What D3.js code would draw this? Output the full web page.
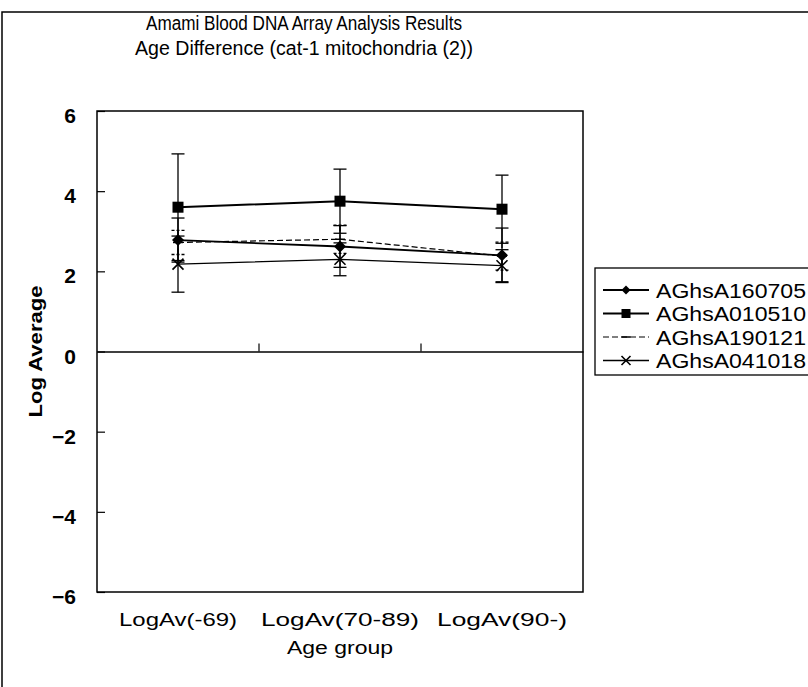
<!DOCTYPE html>
<html><head><meta charset="utf-8">
<script src="https://cdn.jsdelivr.net/npm/d3@7"></script>
<style>body{margin:0;background:#fff}svg{display:block}</style></head>
<body>
<svg id="c" width="808" height="687"></svg>
<script>
const categories = ["LogAv(-69)", "LogAv(70-89)", "LogAv(90-)"];
const seriesNames = ["AGhsA160705", "AGhsA010510", "AGhsA190121", "AGhsA041018"];
const values160705 = [2.78, 2.62, 2.40];
const errors160705 = [0.55, 0.52, 0.68];
const values010510 = [3.60, 3.75, 3.55];
const errors010510 = [1.33, 0.80, 0.85];
const values190121 = [2.72, 2.80, 2.38];
const errors190121 = [0.30, 0.35, 0.35];
const values041018 = [2.18, 2.30, 2.14];
const errors041018 = [0.70, 0.41, 0.40];
const yTicks = [-6, -4, -2, 0, 2, 4, 6];
const titleLines = ["Amami Blood DNA Array Analysis Results", "Age Difference (cat-1 mitochondria (2))"];
const xTitle = "Age group";
const yTitle = "Log Average";

const series = [
  {name: seriesNames[0], values: values160705, errors: errors160705, marker: "diamond", dash: null, width: 1.8},
  {name: seriesNames[1], values: values010510, errors: errors010510, marker: "square", dash: null, width: 2},
  {name: seriesNames[2], values: values190121, errors: errors190121, marker: "dash", dash: "6,3", width: 1.2},
  {name: seriesNames[3], values: values041018, errors: errors041018, marker: "x", dash: null, width: 1.3}
];

const svg = d3.select("#c");
const font = "'Liberation Sans', Arial, sans-serif";
const L = 97, R = 583, T = 111, B = 592;
const x = d3.scaleBand().domain(categories).range([L, R]);
const y = d3.scaleLinear().domain([-6, 6]).range([B, T]);
const cx = c => x(c) + x.bandwidth() / 2;

// outer frame
svg.append("path").attr("d", "M2,700 L2,12 L820,12").attr("fill", "none").attr("stroke", "#000").attr("stroke-width", 1.5);

// plot area border
svg.append("rect").attr("x", L).attr("y", T).attr("width", R - L).attr("height", B - T)
  .attr("fill", "none").attr("stroke", "#000").attr("stroke-width", 1.5);

// y axis
const ya = svg.append("g").attr("transform", `translate(${L},0)`)
  .call(d3.axisLeft(y).tickValues(yTicks).tickSize(-8).tickPadding(21).tickFormat(d => d < 0 ? "\u2212" + Math.abs(d) : d));
ya.select(".domain").remove();
ya.selectAll("line").attr("stroke-width", 1.2);
ya.selectAll("text").attr("font-family", font).attr("font-size", 21).attr("font-weight", "bold").attr("dy", "0.55em").attr("fill", "#000");

// zero line with category tick marks
const zx = svg.append("g").attr("transform", `translate(0,${y(0)})`)
  .call(d3.axisTop(x).tickValues([]).tickSizeOuter(0));
zx.select(".domain").attr("stroke-width", 1.6);
categories.slice(1).forEach(c => {
  svg.append("line").attr("x1", x(c)).attr("x2", x(c)).attr("y1", y(0)).attr("y2", y(0) - 8)
    .attr("stroke", "#000").attr("stroke-width", 1.2);
});

// category labels
const catW = [118, 158, 130];
svg.append("g").selectAll("text").data(categories).join("text")
  .attr("x", d => cx(d)).attr("y", 626).attr("text-anchor", "middle")
  .attr("textLength", (d, i) => catW[i]).attr("lengthAdjust", "spacingAndGlyphs")
  .attr("font-family", font).attr("font-size", 18).attr("fill", "#000").text(d => d);

// axis titles
svg.append("text").attr("x", cx(categories[1])).attr("y", 654).attr("text-anchor", "middle")
  .attr("textLength", 106).attr("lengthAdjust", "spacingAndGlyphs")
  .attr("font-family", font).attr("font-size", 18).text(xTitle);
svg.append("text").attr("transform", `translate(42,${(T + B) / 2}) rotate(-90)`).attr("text-anchor", "middle")
  .attr("textLength", 132).attr("lengthAdjust", "spacingAndGlyphs")
  .attr("font-family", font).attr("font-size", 19).attr("font-weight", "bold").text(yTitle);

// title
const titleW = [316, 338];
svg.append("g").selectAll("text").data(titleLines).join("text")
  .attr("x", 304).attr("y", (d, i) => 30 + i * 25).attr("text-anchor", "middle")
  .attr("textLength", (d, i) => titleW[i]).attr("lengthAdjust", "spacingAndGlyphs")
  .attr("font-family", font).attr("font-size", 20).text(d => d);

function marker(g, type, px, py, s) {
  if (type === "diamond") {
    g.append("path").attr("d", `M${px},${py - s}L${px + s},${py}L${px},${py + s}L${px - s},${py}Z`).attr("fill", "#000");
  } else if (type === "square") {
    g.append("rect").attr("x", px - s).attr("y", py - s).attr("width", 2 * s).attr("height", 2 * s).attr("fill", "#000");
  } else if (type === "dash") {
    g.append("line").attr("x1", px - s).attr("x2", px + s).attr("y1", py).attr("y2", py).attr("stroke", "#000").attr("stroke-width", 1.5);
  } else if (type === "x") {
    g.append("path").attr("d", `M${px - s},${py - s}L${px + s},${py + s}M${px - s},${py + s}L${px + s},${py - s}`)
      .attr("stroke", "#000").attr("stroke-width", 1.6).attr("fill", "none");
  }
}

const line = d3.line().x((d, i) => cx(categories[i])).y(d => y(d));
const sizes = {diamond: 6, square: 5.5, dash: 5, x: 5.5};

series.forEach(s => {
  const g = svg.append("g");
  s.values.forEach((v, i) => {
    const px = cx(categories[i]);
    g.append("line").attr("x1", px).attr("x2", px).attr("y1", y(v + s.errors[i])).attr("y2", y(v - s.errors[i]))
      .attr("stroke", "#000").attr("stroke-width", 1.3).attr("stroke-dasharray", s.dash);
    [v + s.errors[i], v - s.errors[i]].forEach(e => {
      g.append("line").attr("x1", px - 6.5).attr("x2", px + 6.5).attr("y1", y(e)).attr("y2", y(e))
        .attr("stroke", "#000").attr("stroke-width", 1.3).attr("stroke-dasharray", s.dash ? "3,2" : null);
    });
  });
  g.append("path").datum(s.values).attr("d", line).attr("fill", "none").attr("stroke", "#000")
    .attr("stroke-width", s.width).attr("stroke-dasharray", s.dash);
  s.values.forEach((v, i) => marker(g, s.marker, cx(categories[i]), y(v), sizes[s.marker]));
});

// legend
const lg = svg.append("g");
lg.append("rect").attr("x", 595).attr("y", 268).attr("width", 240).attr("height", 107)
  .attr("fill", "#fff").attr("stroke", "#000").attr("stroke-width", 1.3);
series.forEach((s, i) => {
  const ly = 290 + i * 23.5;
  lg.append("line").attr("x1", 603).attr("x2", 649).attr("y1", ly).attr("y2", ly)
    .attr("stroke", "#000").attr("stroke-width", s.width).attr("stroke-dasharray", s.dash);
  marker(lg, s.marker, 626, ly, 4.5);
  lg.append("text").attr("x", 656).attr("y", ly + 7.5).attr("textLength", 150).attr("lengthAdjust", "spacingAndGlyphs")
    .attr("font-family", font).attr("font-size", 20).text(s.name);
});
</script>
</body></html>
